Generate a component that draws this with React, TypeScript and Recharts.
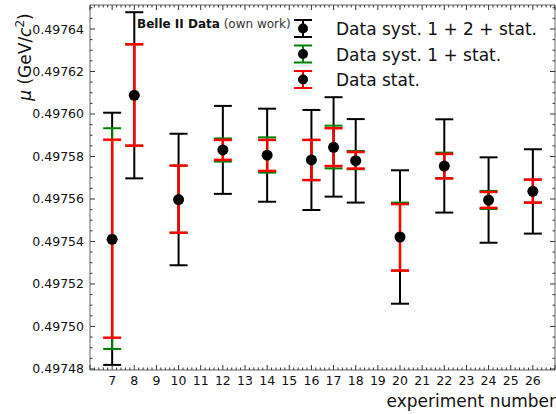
import { ScatterChart, Scatter, XAxis, YAxis, ErrorBar } from "recharts";

const font = "DejaVu Sans, sans-serif";

// experiment numbers and fitted mean values
const experiments = [7, 8, 10, 12, 14, 16, 17, 18, 20, 22, 24, 26];
const mu = [
  0.497541, 0.4976088, 0.4975597, 0.4975831, 0.4975806, 0.4975784, 0.4975843,
  0.497578, 0.4975421, 0.4975755, 0.4975595, 0.4975636,
];

// edges of the error bars: syst. 1 + 2 + stat.
const totLow = [
  0.4974819, 0.4975697, 0.4975288, 0.4975624, 0.4975587, 0.4975548, 0.4975611,
  0.4975583, 0.4975107, 0.4975536, 0.4975394, 0.4975437,
];
const totHigh = [
  0.4976006, 0.4976479, 0.4975907, 0.4976038, 0.4976025, 0.4976019, 0.4976079,
  0.4975976, 0.4975735, 0.4975975, 0.4975796, 0.4975834,
];
// syst. 1 + stat.
const syst1Low = [
  0.4974894, 0.4975851, 0.4975441, 0.4975776, 0.4975724, 0.4975689, 0.4975744,
  0.497574, 0.4975263, 0.4975697, 0.4975553, 0.4975583,
];
const syst1High = [
  0.4975933, 0.4976328, 0.4975757, 0.4975885, 0.497589, 0.4975878, 0.4975945,
  0.4975826, 0.4975583, 0.4975818, 0.4975638, 0.4975691,
];
// stat. only
const statLow = [
  0.4974947, 0.4975851, 0.4975441, 0.4975784, 0.4975732, 0.4975689, 0.4975755,
  0.4975743, 0.4975263, 0.4975697, 0.4975558, 0.4975583,
];
const statHigh = [
  0.4975879, 0.4976328, 0.4975757, 0.4975878, 0.4975878, 0.4975878, 0.4975933,
  0.4975821, 0.4975576, 0.4975812, 0.4975633, 0.4975691,
];

const xTicks = [7, 8, 9, 10, 11, 12, 13, 14, 15, 16, 17, 18, 19, 20, 21, 22, 23, 24, 25, 26];
const yTicks = [
  0.49748, 0.4975, 0.49752, 0.49754, 0.49756, 0.49758, 0.4976, 0.49762, 0.49764,
];

const legendItems = [
  { label: "Data syst. 1 + 2 + stat.", color: "#000000" },
  { label: "Data syst. 1 + stat.", color: "#008000" },
  { label: "Data stat.", color: "#ff0000" },
];

const X_DOMAIN: [number, number] = [6, 27];
const Y_DOMAIN: [number, number] = [0.4974795, 0.4976513];

// all tick positions (major + minor): every 0.2 on x, every 0.000005 on y
const xAll: number[] = [];
for (let i = 0; i <= 105; i++) xAll.push(6 + i * 0.2);
const yAll: number[] = [];
for (let i = 0; i <= 34; i++) yAll.push(0.49748 + i * 0.000005);

const data = experiments.map((x, i) => ({
  x,
  mu: mu[i],
  errTot: [mu[i] - totLow[i], totHigh[i] - mu[i]],
  errSyst: [mu[i] - syst1Low[i], syst1High[i] - mu[i]],
  errStat: [mu[i] - statLow[i], statHigh[i] - mu[i]],
}));

const spine = { stroke: "#999", strokeWidth: 1.5 };
const TICK_COLOR = "#333";
const MAJOR = 5;
const MINOR = 2.5;

const xMajor = (v: number) => Math.abs(v - Math.round(v)) < 1e-6;
const yMajor = (v: number) => yTicks.some((t) => Math.abs(t - v) < 1e-10);

// inward ticks, matplotlib style
const BottomTick = (props: any) => {
  const { x, y, payload } = props;
  const major = xMajor(payload.value);
  const n = Math.round(payload.value);
  return (
    <g>
      <line x1={x} x2={x} y1={y} y2={y - (major ? MAJOR : MINOR)} stroke={TICK_COLOR} />
      {major && xTicks.includes(n) && (
        <text x={x} y={y + 15} textAnchor="middle" fontSize={12.5} fill="#111" fontFamily={font}>
          {n}
        </text>
      )}
    </g>
  );
};

const TopTick = (props: any) => {
  const { x, y, payload } = props;
  return (
    <line x1={x} x2={x} y1={y} y2={y + (xMajor(payload.value) ? MAJOR : MINOR)} stroke={TICK_COLOR} />
  );
};

const LeftTick = (props: any) => {
  const { x, y, payload } = props;
  const major = yMajor(payload.value);
  return (
    <g>
      <line x1={x} x2={x + (major ? MAJOR : MINOR)} y1={y} y2={y} stroke={TICK_COLOR} />
      {major && (
        <text x={x - 6} y={y + 4.5} textAnchor="end" fontSize={12.5} fill="#111" fontFamily={font}>
          {payload.value.toFixed(5)}
        </text>
      )}
    </g>
  );
};

const RightTick = (props: any) => {
  const { x, y, payload } = props;
  return (
    <line x1={x} x2={x - (yMajor(payload.value) ? MAJOR : MINOR)} y1={y} y2={y} stroke={TICK_COLOR} />
  );
};

const Dot = (props: any) => <circle cx={props.cx} cy={props.cy} r={5.5} fill="#000" />;

export default function App() {
  return (
    <div
      style={{
        position: "absolute",
        left: 0,
        top: 0,
        width: 556,
        height: 414,
        background: "#fff",
        fontFamily: font,
      }}
    >
      <ScatterChart width={556} height={414} margin={{ top: 5, right: 1, bottom: 0, left: 0 }}>
        <XAxis
          xAxisId="b"
          type="number"
          dataKey="x"
          domain={X_DOMAIN}
          allowDataOverflow
          ticks={xAll}
          interval={0}
          tickSize={0}
          tickMargin={0}
          tickLine={false}
          axisLine={spine}
          tick={BottomTick}
          height={44}
        />
        <XAxis
          xAxisId="t"
          orientation="top"
          mirror
          type="number"
          dataKey="x"
          domain={X_DOMAIN}
          allowDataOverflow
          ticks={xAll}
          interval={0}
          tickSize={0}
          tickMargin={0}
          tickLine={false}
          axisLine={spine}
          tick={TopTick}
        />
        <YAxis
          yAxisId="l"
          type="number"
          dataKey="mu"
          domain={Y_DOMAIN}
          allowDataOverflow
          ticks={yAll}
          interval={0}
          tickSize={0}
          tickMargin={0}
          tickLine={false}
          axisLine={spine}
          tick={LeftTick}
          width={90}
        />
        <YAxis
          yAxisId="r"
          orientation="right"
          mirror
          type="number"
          dataKey="mu"
          domain={Y_DOMAIN}
          allowDataOverflow
          ticks={yAll}
          interval={0}
          tickSize={0}
          tickMargin={0}
          tickLine={false}
          axisLine={spine}
          tick={RightTick}
        />
        <Scatter
          data={data}
          xAxisId="b"
          yAxisId="l"
          isAnimationActive={false}
          shape={Dot}
        >
          <ErrorBar dataKey="errTot" direction="y" width={9} stroke="#000" strokeWidth={2} />
          <ErrorBar dataKey="errSyst" direction="y" width={9} stroke="#008000" strokeWidth={2} />
          <ErrorBar dataKey="errStat" direction="y" width={9} stroke="#ff0000" strokeWidth={2.5} />
        </Scatter>
      </ScatterChart>

      {/* Labels and legend */}
      <svg
        width={556}
        height={414}
        style={{ position: "absolute", left: 0, top: 0, pointerEvents: "none" }}
        fontFamily={font}
      >
        <text x={31} y={57} transform="rotate(-90 31 57)" textAnchor="middle" fontSize={17} fill="#111">
          <tspan fontStyle="italic">μ</tspan>
          <tspan> (GeV/</tspan>
          <tspan fontStyle="italic">c</tspan>
          <tspan dy={-7} fontSize={12}>2</tspan>
          <tspan dy={7}>)</tspan>
        </text>
        <text x={556} y={407} textAnchor="end" fontSize={17} fill="#111">
          experiment number
        </text>
        <text x={137} y={28} fontSize={12} fill="#111">
          <tspan fontWeight="bold">Belle II Data</tspan>
          <tspan fill="#333"> (own work)</tspan>
        </text>
        {legendItems.map((item, i) => {
          const cy = 28.5 + i * 25.5;
          return (
            <g key={item.label}>
              <line x1={303} x2={303} y1={cy - 8.5} y2={cy + 8.5} stroke={item.color} strokeWidth={2} />
              <line x1={294} x2={312} y1={cy - 8.5} y2={cy - 8.5} stroke={item.color} strokeWidth={2} />
              <line x1={294} x2={312} y1={cy + 8.5} y2={cy + 8.5} stroke={item.color} strokeWidth={2} />
              <circle cx={303} cy={cy} r={5} fill="#000" />
              <text x={336} y={cy + 6.5} fontSize={17} fill="#111">
                {item.label}
              </text>
            </g>
          );
        })}
      </svg>
    </div>
  );
}
